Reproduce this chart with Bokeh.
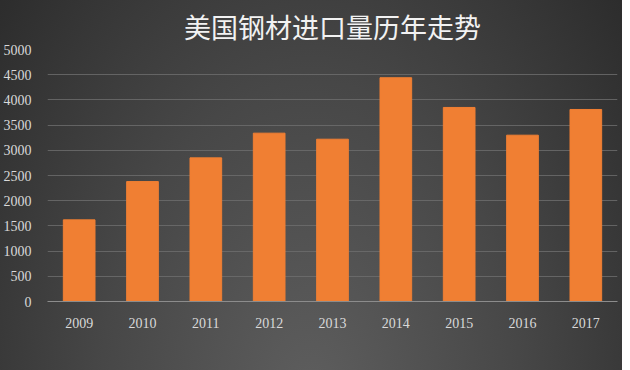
from bokeh.plotting import figure
from bokeh.models import FactorRange, Legend, LegendItem, SingleIntervalTicker
from bokeh.embed import file_html
from bokeh.resources import INLINE

years = ["2009", "2010", "2011", "2012", "2013", "2014", "2015", "2016", "2017"]
imports = [1620, 2380, 2850, 3340, 3220, 4440, 3850, 3300, 3810]
title_text = "美国钢材进口量历年走势"
series_name = "美国钢材进口量（万吨）"

p = figure(x_range=FactorRange(*years, range_padding=0), frame_width=570, frame_height=252,
           toolbar_location=None, output_backend="svg", y_range=(0, 5000))

p.styles = {"background": "radial-gradient(ellipse 75% 85% at 50% 48%, #5e5e5e 0%, #474747 45%, #2e2e2e 85%, #262626 100%)"}
p.border_fill_alpha = 0
p.background_fill_alpha = 0
p.outline_line_color = None

p.title.text = title_text
p.title.align = "center"
p.title.text_font = "Noto Sans CJK SC"
p.title.text_font_size = "27px"
p.title.text_font_style = "normal"
p.title.text_color = "#f2f2f2"
p.title.standoff = 8

r = p.vbar(x=years, top=imports, width=0.5, color="#f07f33")

p.yaxis.ticker = SingleIntervalTicker(interval=500)
p.yaxis.axis_line_color = None
p.yaxis.major_tick_line_color = None
p.yaxis.minor_tick_line_color = None
p.yaxis.major_label_text_font = "Liberation Serif"
p.yaxis.major_label_text_font_size = "14px"
p.yaxis.major_label_text_color = "#d9d9d9"
p.yaxis.major_label_standoff = 10

p.xaxis.axis_line_color = "#8c8c8c"
p.xaxis.major_tick_line_color = None
p.xaxis.minor_tick_line_color = None
p.xaxis.major_label_text_font = "Liberation Serif"
p.xaxis.major_label_text_font_size = "14px"
p.xaxis.major_label_text_color = "#d9d9d9"
p.xaxis.major_label_standoff = 10

p.xgrid.grid_line_color = None
p.ygrid.grid_line_color = "#6e6e6e"
p.ygrid.grid_line_alpha = 0.8

legend = Legend(items=[LegendItem(label=series_name, renderers=[r])],
                location="center", orientation="horizontal",
                background_fill_alpha=0, border_line_color=None,
                label_text_font="Noto Sans CJK SC", label_text_font_size="14px",
                label_text_color="#d9d9d9", glyph_width=8, glyph_height=8,
                label_standoff=3, padding=2, margin=2)
p.add_layout(legend, "below")

open("out.html", "w").write(file_html(p, INLINE))
